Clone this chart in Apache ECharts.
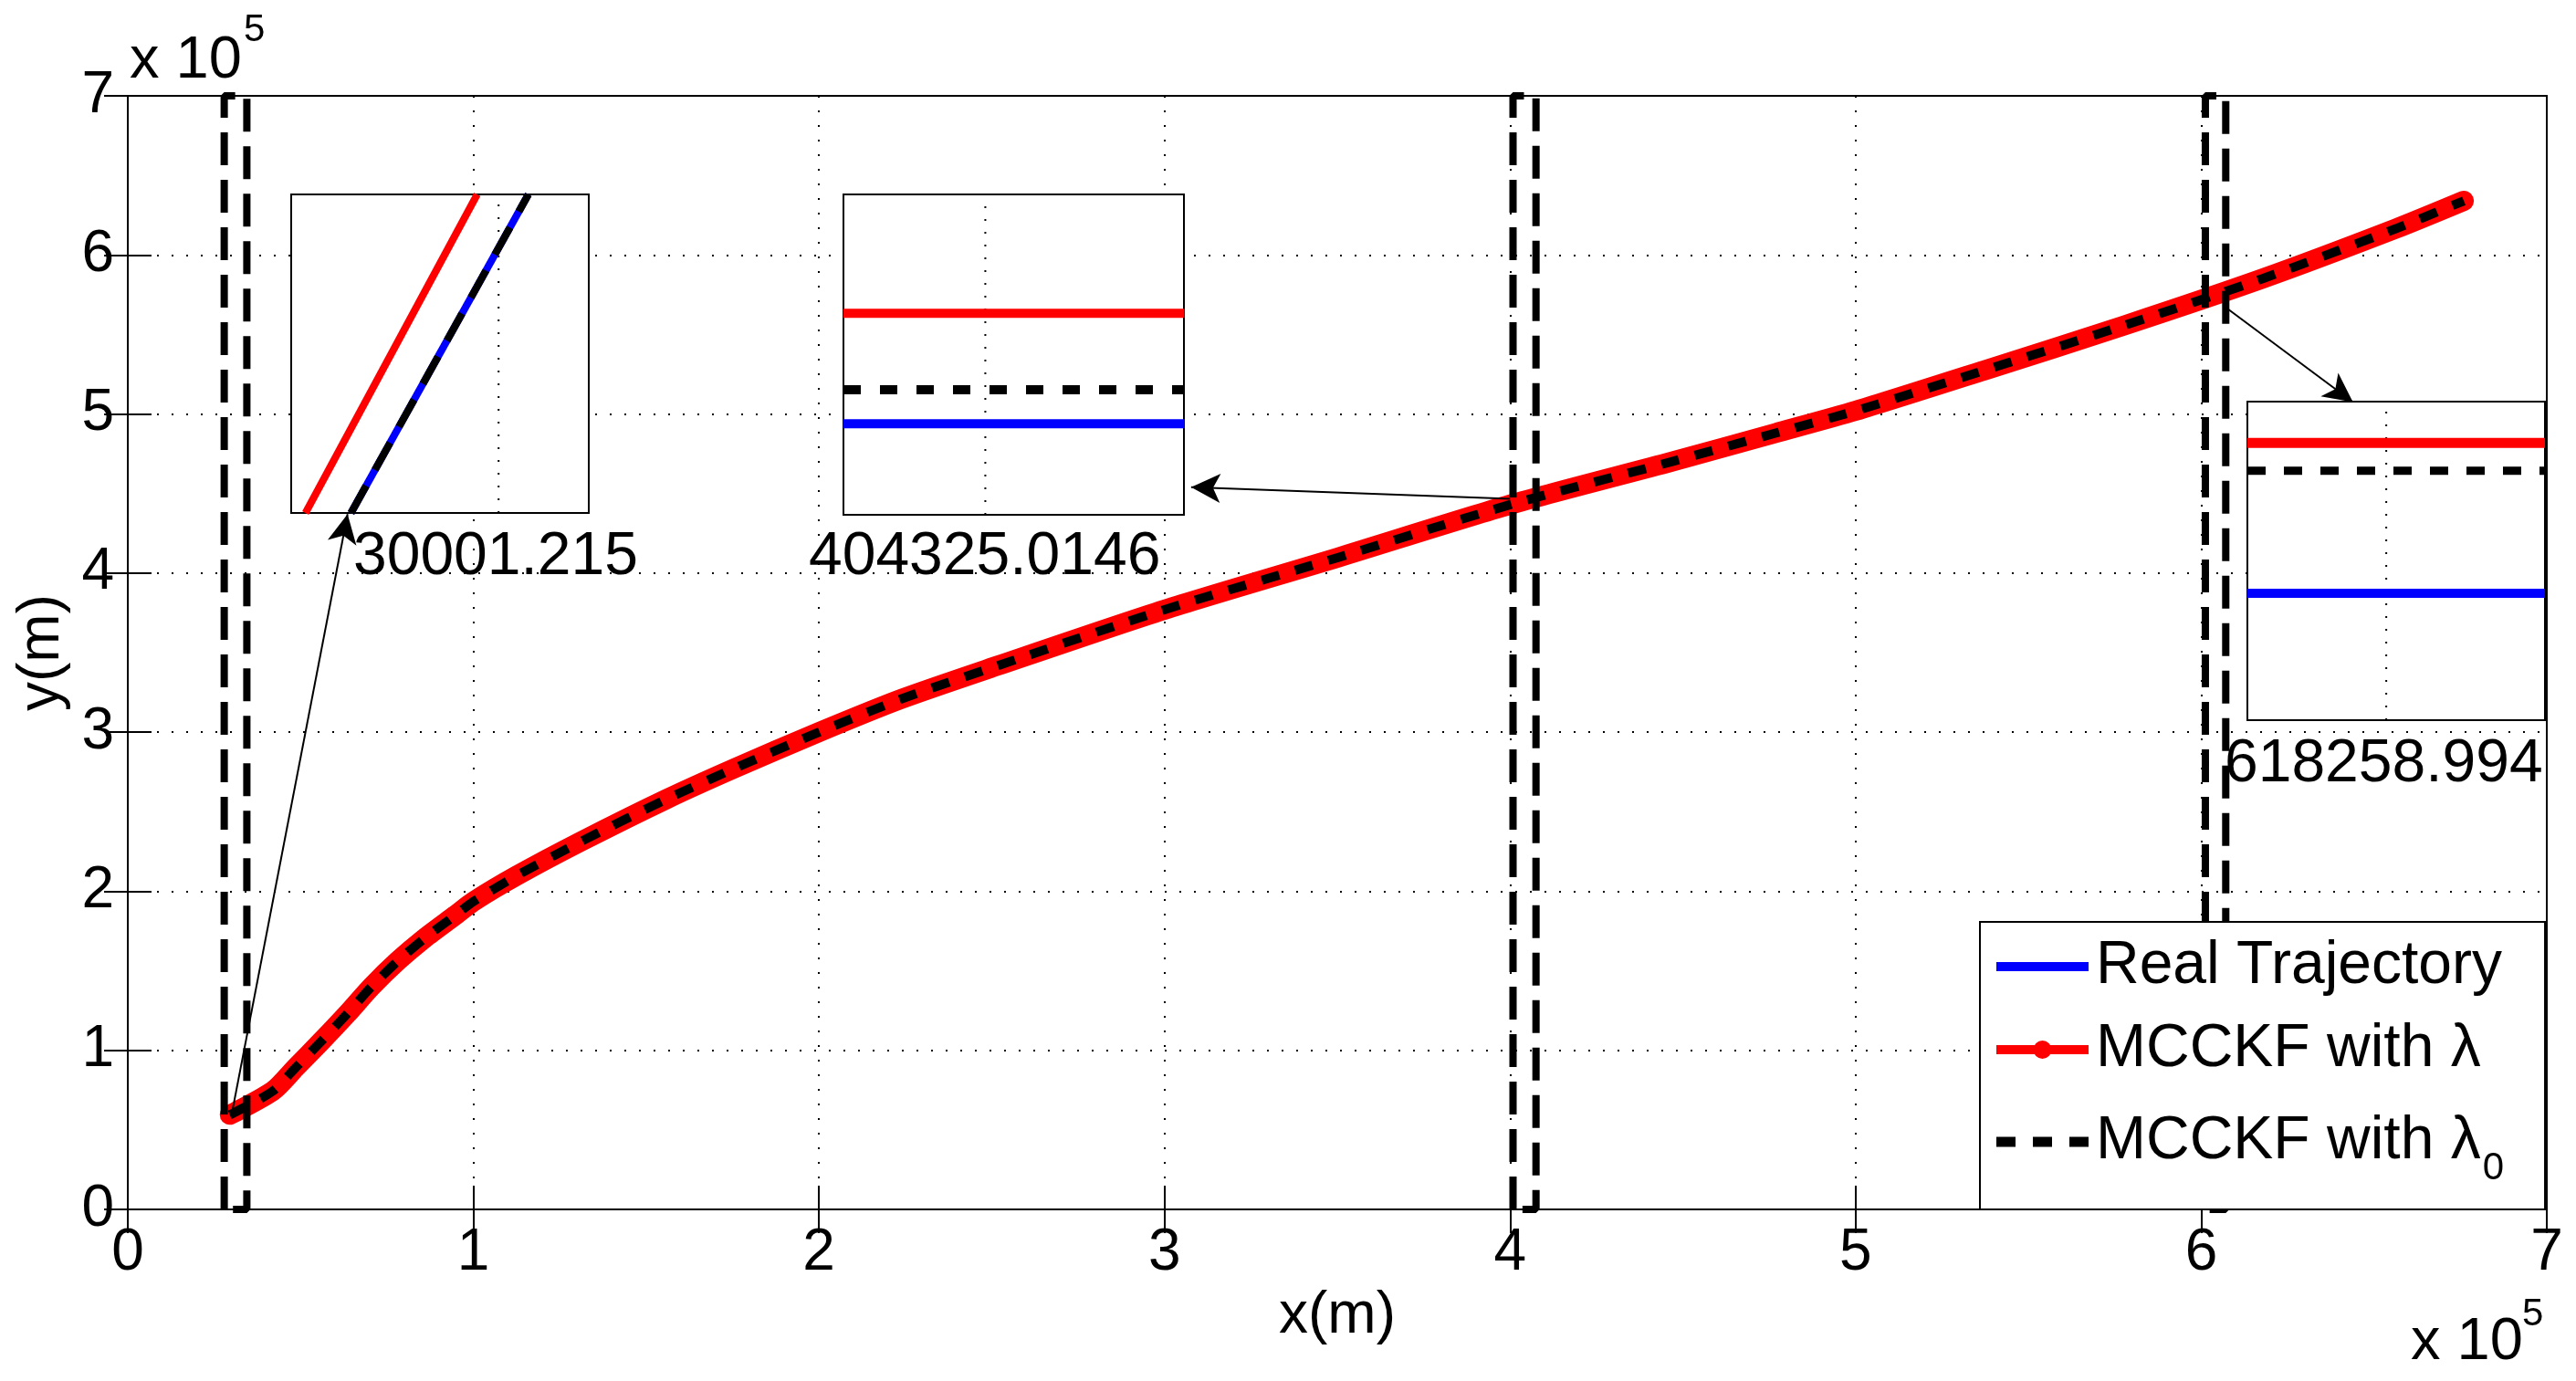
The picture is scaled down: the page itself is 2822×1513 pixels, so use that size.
<!DOCTYPE html>
<html>
<head>
<meta charset="utf-8">
<script src="https://cdn.jsdelivr.net/npm/echarts@6/dist/echarts.min.js"></script>
<style>html,body{margin:0;padding:0;background:#fff}#chart{width:2822px;height:1513px}</style>
</head>
<body>
<div id="chart"></div>
<script>
// ---------- data (metres) ----------
const trajX   = [29500, 31000, 42000, 48500, 56000, 63500, 70500, 78300, 85900, 94700, 100000, 112400, 131100, 155900, 175400, 200000, 224000, 252000, 300000, 350500, 400000, 446700, 476800, 500000, 537300, 577500, 617600, 656300, 676000];
const realY   = [59500, 61000, 74500, 89000, 105700, 123000, 140000, 156500, 170500, 184800, 193500, 209600, 231200, 257900, 277100, 300000, 321000, 342000, 377000, 410000, 443000, 470000, 488000, 502000, 527500, 555500, 585000, 616500, 634000];
const mcckfY  = [59500, 61000, 74500, 89000, 105700, 123000, 140000, 156500, 170500, 184800, 193500, 209600, 231200, 257900, 277100, 300000, 321000, 342000, 377000, 410000, 443000, 470000, 488000, 502000, 527500, 555500, 585000, 616500, 634000];
const mcckf0Y = [59500, 61000, 74500, 89000, 105700, 123000, 140000, 156500, 170500, 184800, 193500, 209600, 231200, 257900, 277100, 300000, 321000, 342000, 377000, 410000, 443000, 470000, 488000, 502000, 527500, 555500, 585000, 616500, 634000];
const seriesNames = ['Real Trajectory', 'MCCKF with λ', 'MCCKF with λ0'];
const axisTicks = [0, 1, 2, 3, 4, 5, 6, 7]; // x 10^5

// zoom boxes (dashed rectangles) in main axes
const boxLeft  = [27900, 400850, 601200];
const boxRight = [34450, 407500, 607100];
const boxBottom = 0, boxTop = 700000;

// arrows from trajectory to insets (main axes coords)
const arrowFrom = [[30001, 59000], [400000, 446700], [607700, 566000]];
const arrowTo   = [[63600, 437100], [307700, 454000], [643900, 507500]];

// inset labels
const insetLabels = ['30001.215', '404325.0146', '618258.994'];

// inset contents (local inset units)
const inset1Red   = [[0.48, 0], [6.25, 10]];
const inset1Blue  = [[2.01, 0], [7.97, 10]];
const inset1Black = [[2.01, 0], [7.97, 10]];
const inset1GridX = 6.97;
const inset2Red = 6.29, inset2Black = 3.90, inset2Blue = 2.84, inset2GridX = 5.0;
const inset3Red = 8.70, inset3Black = 7.83, inset3Blue = 3.98, inset3GridX = 7.0;

// ---------- build ----------
const FF = '"Liberation Sans", Arial, Helvetica, sans-serif';
const zip = (xs, ys) => xs.map((x, i) => [x, ys[i]]);

const boxData = [];
boxLeft.forEach((l, i) => {
  const r = boxRight[i];
  boxData.push([l, boxBottom], [l, boxTop], [r, boxTop], [r, boxBottom], [l, boxBottom], ['-', '-']);
});

const mainAxisCommon = {
  type: 'value', gridIndex: 0, min: 0, max: 700000, interval: 100000,
  axisLine: { show: true, lineStyle: { color: '#000', width: 2 } },
  axisTick: { show: true, inside: true, length: 26, lineStyle: { color: '#000', width: 2 } },
};
const lbl = (m) => ({ show: true, margin: m, fontFamily: FF, fontSize: 64, color: '#000',
  formatter: v => String(axisTicks[Math.round(v / 100000)]) });
const gridStyle = { show: true, lineStyle: { color: '#000', width: 2, type: [2, 14] } };

function insetAxes(gi, xmax) {
  return {
    x: { type: 'value', gridIndex: gi, min: 0, max: xmax, axisLine: { show: false }, axisTick: { show: false },
         axisLabel: { show: false }, splitLine: { show: false }, z: 6 },
    y: { type: 'value', gridIndex: gi, min: 0, max: 10, axisLine: { show: false }, axisTick: { show: false },
         axisLabel: { show: false }, splitLine: { show: false }, z: 6 }
  };
}
const ia1 = insetAxes(1, 10), ia2 = insetAxes(2, 12), ia3 = insetAxes(3, 15);

function iLine(xi, data, color, width, dash, z) {
  return { type: 'line', xAxisIndex: xi, yAxisIndex: xi, data, symbol: 'none', silent: true, z: z || 7,
    lineStyle: { color, width, type: dash || 'solid', cap: 'butt' }, clip: true, animation: false };
}
function iGrid(xi, gx) {
  return { type: 'line', xAxisIndex: xi, yAxisIndex: xi, data: [[gx, 0], [gx, 10]], symbol: 'none', silent: true, z: 6.5,
    lineStyle: { color: '#000', width: 2, type: [2, 12] }, animation: false };
}

const option = {
  animation: false,
  backgroundColor: '#fff',
  grid: [
    { left: 140, top: 105, right: 32, bottom: 188, show: true, borderColor: '#000', borderWidth: 2, backgroundColor: 'rgba(0,0,0,0)' },
    { left: 319, top: 213, width: 326, height: 349, show: true, borderColor: '#000', borderWidth: 2, backgroundColor: '#fff', z: 6 },
    { left: 924, top: 213, width: 373, height: 351, show: true, borderColor: '#000', borderWidth: 2, backgroundColor: '#fff', z: 6 },
    { left: 2462, top: 440, width: 326, height: 349, show: true, borderColor: '#000', borderWidth: 2, backgroundColor: '#fff', z: 6 }
  ],
  xAxis: [
    Object.assign({}, mainAxisCommon, { position: 'bottom', name: 'x(m)', nameLocation: 'middle', nameGap: 80,
      nameTextStyle: { fontFamily: FF, fontSize: 64, color: '#000' }, axisLabel: lbl(16), splitLine: gridStyle }),
    ia1.x, ia2.x, ia3.x,
    Object.assign({}, mainAxisCommon, { position: 'top', axisLabel: { show: false }, splitLine: { show: false } })
  ],
  yAxis: [
    Object.assign({}, mainAxisCommon, { position: 'left', name: 'y(m)', nameLocation: 'middle', nameGap: 60,
      nameTextStyle: { fontFamily: FF, fontSize: 64, color: '#000' }, axisLabel: lbl(15), splitLine: gridStyle }),
    ia1.y, ia2.y, ia3.y,
    Object.assign({}, mainAxisCommon, { position: 'right', axisLabel: { show: false }, splitLine: { show: false } })
  ],
  legend: {
    orient: 'vertical', left: 2169, top: 1010,
    padding: [9, 45, 24, 18],
    itemWidth: 101, itemHeight: 22, itemGap: 11,
    backgroundColor: '#fff', borderColor: '#000', borderWidth: 2, borderRadius: 0,
    selectedMode: false, z: 10,
    symbolKeepAspect: true,
    itemStyle: { borderWidth: 0 },
    textStyle: { fontFamily: FF, fontSize: 66, color: '#000', lineHeight: 80, padding: [0, 0, 0, 3],
      rich: { sub: { fontFamily: FF, fontSize: 42, lineHeight: 42, padding: [58, 0, 0, 2], color: '#000' } } },
    formatter: name => name === seriesNames[2] ? name.slice(0, -1) + '{sub|0}' : name,
    data: [
      { name: seriesNames[0], icon: 'path://M0,0L101,0L101,10L0,10Z', itemStyle: { color: '#0000ff' } },
      { name: seriesNames[1], icon: 'path://M0,5L101,5L101,15L0,15Z M40.5,10A10,10 0 1,1 60.5,10A10,10 0 1,1 40.5,10Z', itemStyle: { color: '#ff0000' } },
      { name: seriesNames[2], icon: 'path://M0,0L21,0L21,11L0,11Z M40,0L61,0L61,11L40,11Z M80,0L101,0L101,11L80,11Z', itemStyle: { color: '#000000' } }
    ]
  },
  series: [
    { name: seriesNames[0], type: 'line', xAxisIndex: 0, yAxisIndex: 0, data: zip(trajX, realY), smooth: 0.25,
      symbol: 'none', color: '#0000ff', lineStyle: { color: '#0000ff', width: 10 }, z: 2, silent: true },
    { name: seriesNames[1], type: 'line', xAxisIndex: 0, yAxisIndex: 0, data: zip(trajX, mcckfY), smooth: 0.25,
      symbol: 'none', color: '#ff0000', lineStyle: { color: '#ff0000', width: 22, cap: 'round', join: 'round' }, z: 3, silent: true },
    { name: seriesNames[2], type: 'line', xAxisIndex: 0, yAxisIndex: 0, data: zip(trajX, mcckf0Y), smooth: 0.25,
      symbol: 'none', color: '#000000', lineStyle: { color: '#000', width: 10, type: [20, 18], cap: 'butt' }, z: 4, silent: true },
    { name: 'boxes', type: 'line', xAxisIndex: 0, yAxisIndex: 0, data: boxData, symbol: 'none', connectNulls: false,
      lineStyle: { color: '#000', width: 8, type: [36, 16], cap: 'butt' }, z: 5, silent: true, clip: false },
    // arrows
    { name: 'arrows', type: 'line', xAxisIndex: 0, yAxisIndex: 0, data: [], symbol: 'none', z: 8, silent: true,
      markLine: { silent: true, symbol: ['none', 'arrow'], symbolSize: [24, 32], animation: false,
        label: { show: false }, emphasis: { disabled: true },
        lineStyle: { color: '#000', width: 2, type: 'solid' },
        data: arrowFrom.map((f, i) => [{ coord: f }, { coord: arrowTo[i] }]) } },
    // inset 1
    iGrid(1, inset1GridX),
    iLine(1, inset1Red, '#ff0000', 8),
    iLine(1, inset1Blue, '#0000ff', 8),
    iLine(1, inset1Black, '#000000', 8, [34, 20], 7.5),
    // inset 2
    iGrid(2, inset2GridX),
    iLine(2, [[0, inset2Red], [12, inset2Red]], '#ff0000', 10),
    iLine(2, [[0, inset2Black], [12, inset2Black]], '#000000', 10, [19, 21]),
    iLine(2, [[0, inset2Blue], [12, inset2Blue]], '#0000ff', 10),
    // inset 3
    iGrid(3, inset3GridX),
    iLine(3, [[0, inset3Red], [15, inset3Red]], '#ff0000', 11),
    iLine(3, [[0, inset3Black], [15, inset3Black]], '#000000', 9, [20, 20]),
    iLine(3, [[0, inset3Blue], [15, inset3Blue]], '#0000ff', 10)
  ],
  graphic: [
    { type: 'text', x: 142, y: 67, z: 10, style: { text: 'x 10', fontFamily: FF, fontSize: 65, fill: '#000', verticalAlign: 'middle', align: 'left' } },
    { type: 'text', x: 267, y: 33, z: 10, style: { text: '5', fontFamily: FF, fontSize: 42, fill: '#000', verticalAlign: 'middle', align: 'left' } },
    { type: 'text', x: 2641, y: 1471, z: 10, style: { text: 'x 10', fontFamily: FF, fontSize: 65, fill: '#000', verticalAlign: 'middle', align: 'left' } },
    { type: 'text', x: 2763, y: 1440, z: 10, style: { text: '5', fontFamily: FF, fontSize: 42, fill: '#000', verticalAlign: 'middle', align: 'left' } },
    { type: 'text', x: 387, y: 611, z: 10, style: { text: insetLabels[0], fontFamily: FF, fontSize: 66, fill: '#000', verticalAlign: 'middle', align: 'left' } },
    { type: 'text', x: 886, y: 611, z: 10, style: { text: insetLabels[1], fontFamily: FF, fontSize: 66, fill: '#000', verticalAlign: 'middle', align: 'left' } },
    { type: 'text', x: 2437, y: 838, z: 10, style: { text: insetLabels[2], fontFamily: FF, fontSize: 66, fill: '#000', verticalAlign: 'middle', align: 'left' } }
  ]
};

const chart = echarts.init(document.getElementById('chart'), null, { renderer: 'canvas' });
chart.setOption(option);
</script>
</body>
</html>
